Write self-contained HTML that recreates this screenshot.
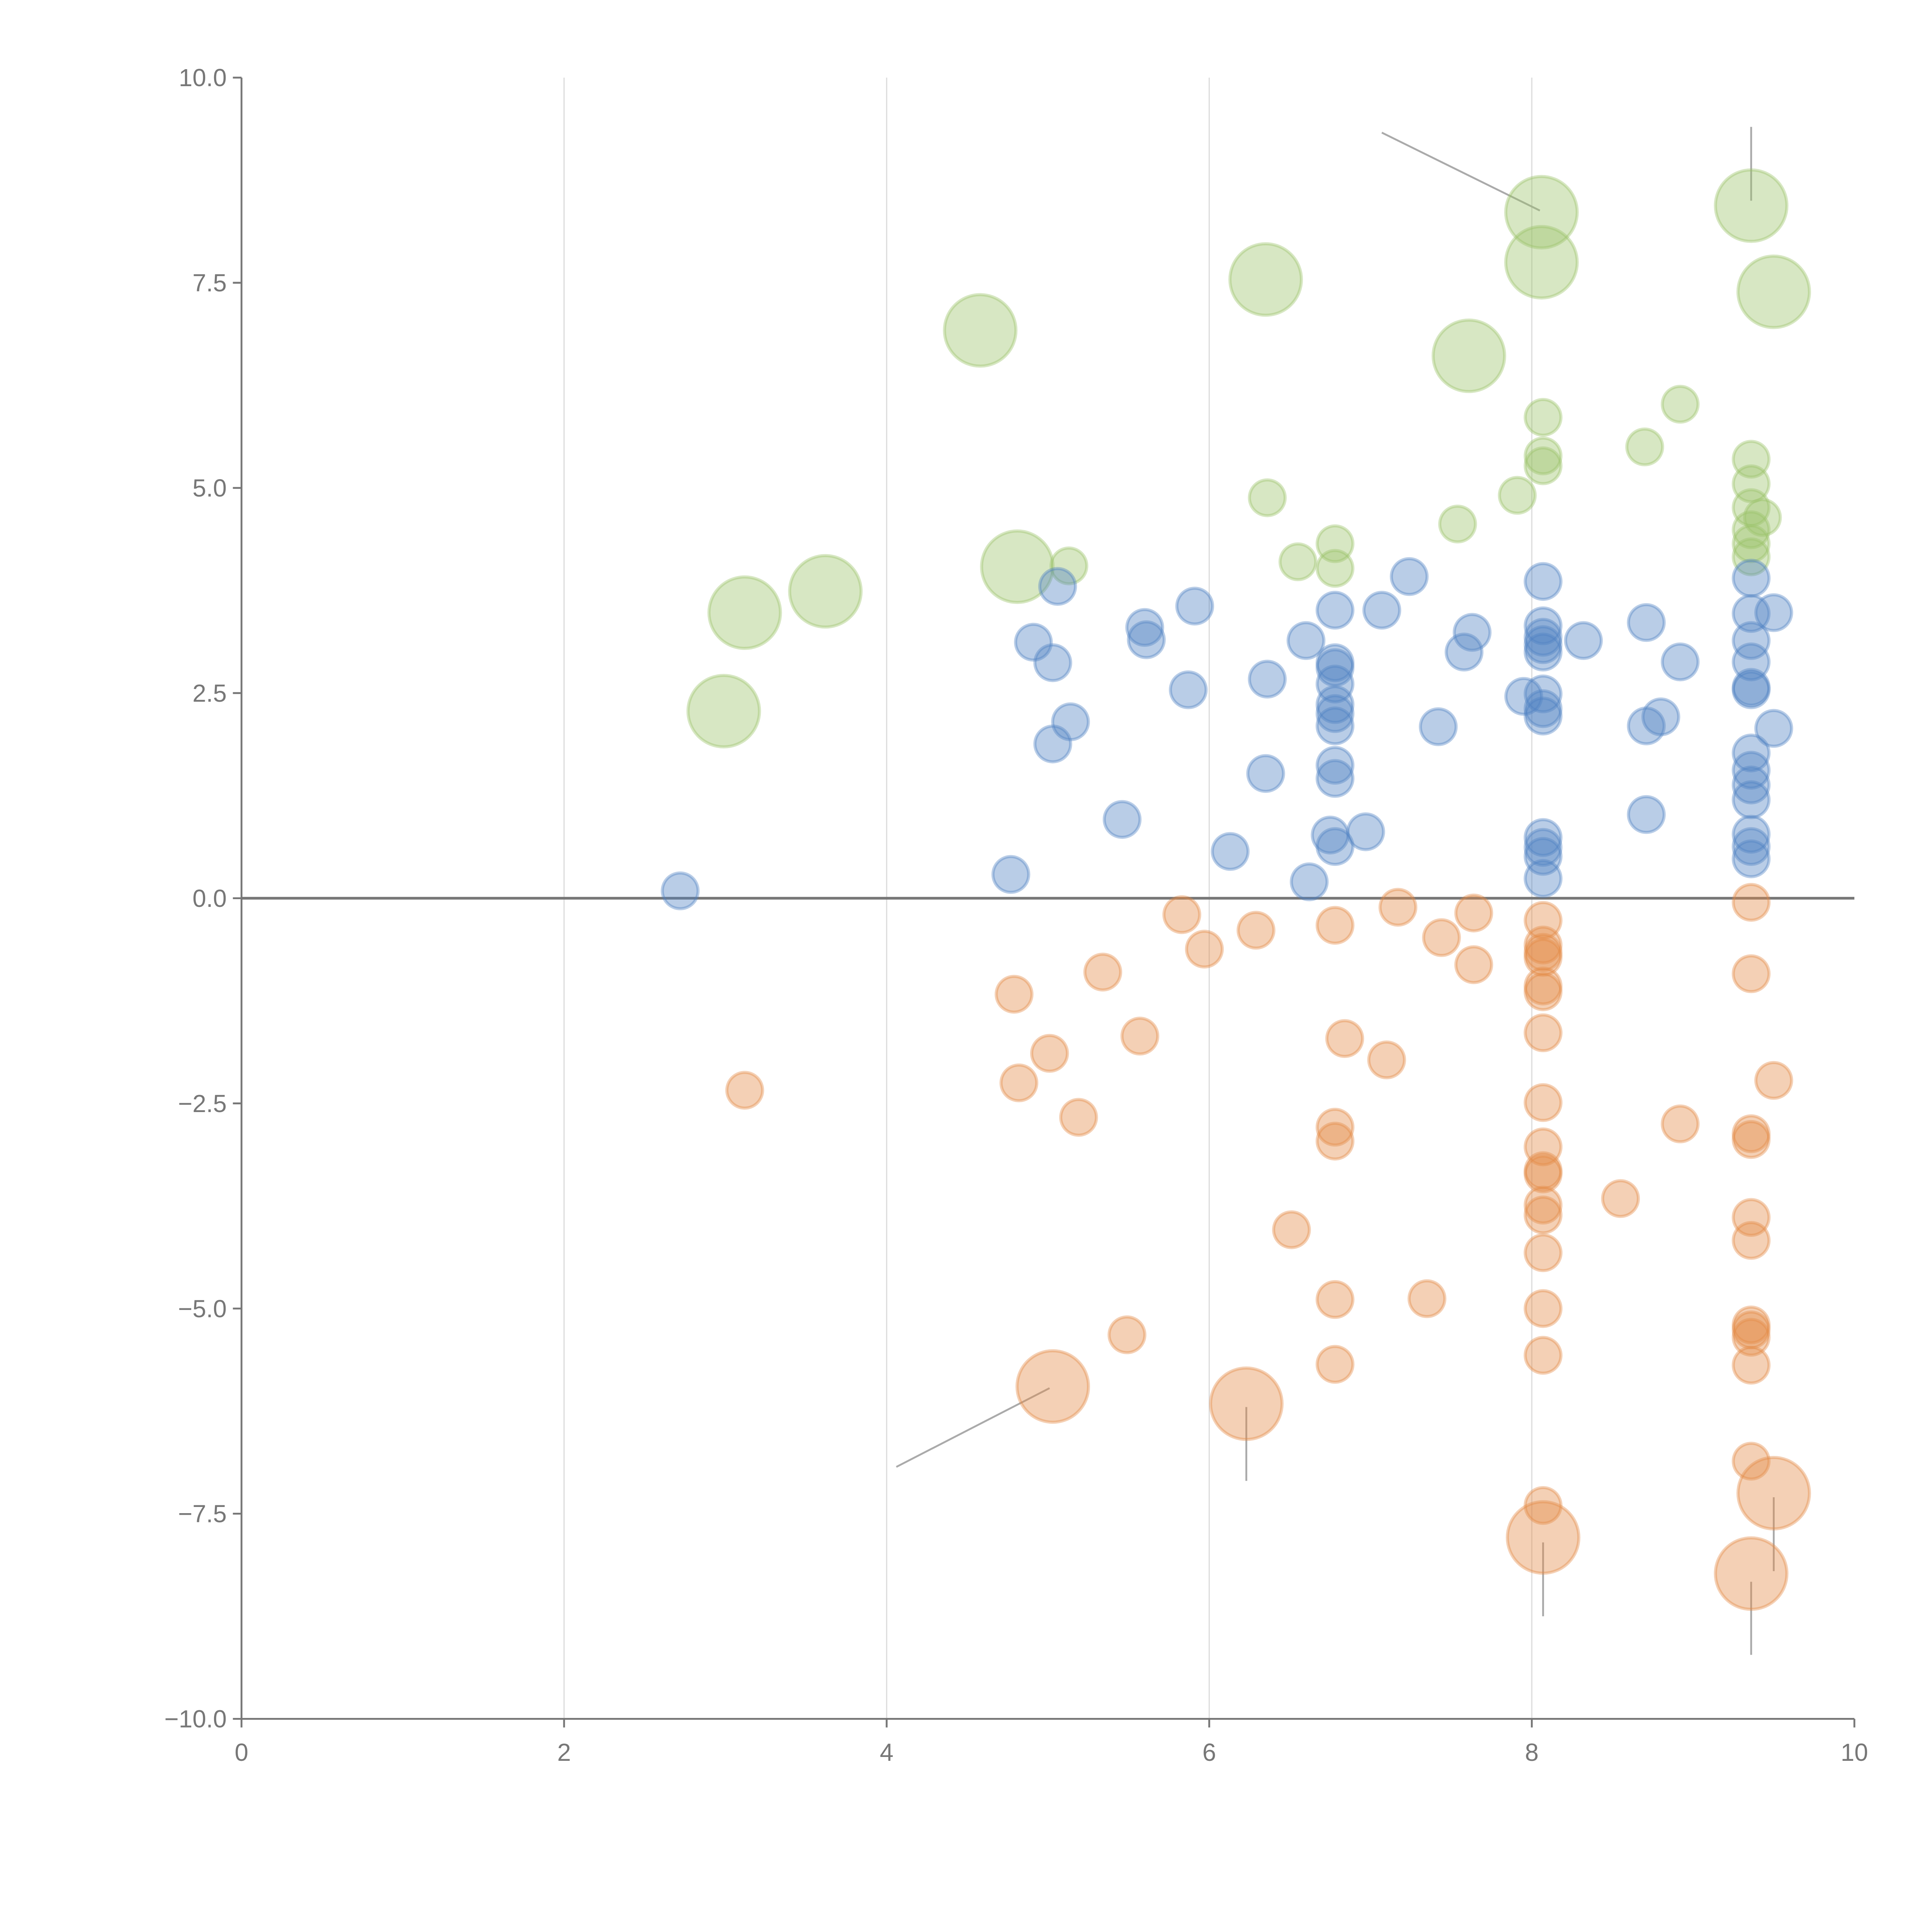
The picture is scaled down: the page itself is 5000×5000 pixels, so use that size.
<!DOCTYPE html>
<html><head><meta charset="utf-8"><style>html,body{margin:0;padding:0;background:#fff}svg{display:block}</style></head>
<body>
<svg id="chart" width="5000" height="5000" viewBox="0 0 1568 1568" xmlns="http://www.w3.org/2000/svg" font-family="Liberation Sans, sans-serif">
<g id="grid"></g>
<g id="leaders"></g>
<g id="marks"></g>
<g id="axes"></g>
</svg>
<script>
const xTicks = [0, 2, 4, 6, 8, 10];
const yTicks = [-10, -7.5, -5, -2.5, 0, 2.5, 5, 7.5, 10];
const yTickLabels = ["\u221210.0","\u22127.5","\u22125.0","\u22122.5","0.0","2.5","5.0","7.5","10.0"];

const greenX = [3.12,3.62,2.99,4.58,4.81,6.35,7.61,8.06,8.06,9.36,9.50, 5.13,6.36,6.55,6.78,6.78,7.54,7.91,8.07,8.07,8.07,8.70,8.92,9.36,9.36,9.36,9.43,9.36,9.36,9.36];
const greenY = [3.48,3.74,2.28,6.92,4.04,7.54,6.61,8.36,7.75,8.44,7.39, 4.05,4.88,4.10,4.32,4.02,4.56,4.91,5.86,5.39,5.27,5.50,6.02,5.35,5.05,4.76,4.64,4.49,4.32,4.16];
const greenS = [2,2,2,2,2,2,2,2,2,2,2, 1,1,1,1,1,1,1,1,1,1,1,1,1,1,1,1,1,1,1];

const blueX = [2.72,4.77,4.91,5.03,5.06,5.14,5.03,5.46,5.60,5.61,5.87,5.91,6.13,6.36,6.35,6.60,6.62,6.78,6.78,6.78,6.78,6.78,6.78,6.78,6.78,6.78,6.75,6.78,6.97,7.07,7.24,7.42,7.58,7.63,7.95,8.07,8.07,8.07,8.07,8.07,8.07,8.07,8.07,8.07,8.07,8.07,8.07,8.32,8.71,8.71,8.80,8.71,8.92,9.36,9.36,9.50,9.36,9.36,9.36,9.36,9.50,9.36,9.36,9.36,9.36,9.36,9.36,9.36];
const blueY = [0.09,0.29,3.12,2.87,3.80,2.15,1.88,0.96,3.30,3.15,2.54,3.56,0.57,2.67,1.52,3.14,0.20,3.51,2.87,2.81,2.61,2.36,2.25,2.10,1.62,1.46,0.77,0.63,0.81,3.51,3.92,2.09,3.00,3.24,2.46,3.86,3.32,3.18,3.09,3.00,2.49,2.31,2.22,0.74,0.62,0.51,0.24,3.14,3.36,2.10,2.21,1.02,2.88,3.90,3.47,3.48,3.14,2.88,2.57,2.54,2.07,1.77,1.56,1.38,1.20,0.78,0.63,0.48];

const orangeX = [3.12,4.79,4.82,5.01,5.19,5.34,5.49,5.57,5.83,5.97,6.29,6.51,6.78,6.78,6.78,6.78,6.78,6.84,7.10,7.17,7.35,7.44,7.64,7.64,8.07,8.07,8.07,8.07,8.07,8.07,8.07,8.07,8.07,8.07,8.07,8.07,8.07,8.07,8.07,8.07,8.07,8.55,8.92,9.36,9.36,9.36,9.36,9.36,9.36,9.36,9.36,9.36,9.36,9.36,9.50, 5.03,6.23,8.07,9.50,9.36];
const orangeY = [-2.34,-1.17,-2.25,-1.89,-2.67,-0.90,-5.32,-1.68,-0.20,-0.62,-0.39,-4.04,-0.33,-2.79,-2.96,-4.89,-5.68,-1.71,-1.97,-0.11,-4.88,-0.48,-0.18,-0.81,-0.27,-0.57,-0.66,-0.72,-1.07,-1.14,-1.64,-2.49,-3.03,-3.32,-3.36,-3.74,-3.86,-4.32,-5.00,-5.57,-7.40,-3.66,-2.75,-0.05,-0.92,-2.87,-2.94,-3.89,-4.17,-5.20,-5.26,-5.35,-5.69,-6.86,-2.22, -5.95,-6.16,-7.79,-7.25,-8.23];
const orangeS = orangeX.map((_, i) => i >= 55 ? 2 : 1);

const leaderX1 = [7.07,4.06,6.23,8.07,9.36,9.36,9.50];
const leaderY1 = [9.33,-6.93,-6.20,-7.85,-8.33,9.40,-7.30];
const leaderX2 = [8.05,5.01,6.23,8.07,9.36,9.36,9.50];
const leaderY2 = [8.38,-5.97,-7.10,-8.75,-9.22,8.50,-8.20];

const X0=196, X1=1505, Y0=1395, Y1=63;
const sx = v => X0 + (v-0)/(10-0)*(X1-X0);
const sy = v => Y0 - (v+10)/20*(Y0-Y1);
const NS='http://www.w3.org/2000/svg';
function mk(tag, parent, attrs){const e=document.createElementNS(NS,tag);for(const k in attrs)e.setAttribute(k,attrs[k]);parent.appendChild(e);return e;}

const grid=document.getElementById('grid');
xTicks.forEach(t=>{ if(t>0&&t<10){
  const l=mk('line',grid,{x1:sx(t),x2:sx(t),y1:Y1,y2:Y0,stroke:'#dddddd','stroke-width':1});
  
  
}});
const zl=mk('line',grid,{x1:X0,x2:X1,y1:sy(0),y2:sy(0),stroke:'#777','stroke-width':2.2});



const leaders=document.getElementById('leaders');
leaderX1.forEach((_,i)=>{
  const l=mk('line',leaders,{x1:sx(leaderX1[i]),y1:sy(leaderY1[i]),x2:sx(leaderX2[i]),y2:sy(leaderY2[i]),stroke:'#aaa','stroke-width':1.5});
  
  
});

const marks=document.getElementById('marks');
function series(xs,ys,ss,col,name){
  xs.forEach((x,i)=>{
    const r = ss[i]===2 ? 29 : 14.5;
    const c=mk('circle',marks,{cx:sx(x),cy:sy(ys[i]),r:r,fill:col,'fill-opacity':0.4,stroke:col,'stroke-opacity':0.4,'stroke-width':2.5});
    
    
  });
}
series(greenX,greenY,greenS,'#9cc36a','bubble-positive-large');
series(blueX,blueY,blueX.map(()=>1),'#5183c3','bubble-positive');
series(orangeX,orangeY,orangeS,'#e38a45','bubble-negative');

const axes=document.getElementById('axes');
const ly=mk('line',axes,{x1:X0,x2:X0,y1:Y1,y2:Y0,stroke:'#777','stroke-width':1.5});


const lx=mk('line',axes,{x1:X0,x2:X1,y1:Y0,y2:Y0,stroke:'#777','stroke-width':1.5});


yTicks.forEach((t,i)=>{
  const tk=mk('line',axes,{x1:X0-7,x2:X0,y1:sy(t),y2:sy(t),stroke:'#777','stroke-width':1.5});
  
  
  const tx=mk('text',axes,{x:X0-12,y:sy(t)+7,'text-anchor':'end','font-size':20,fill:'#777'});
  tx.textContent=yTickLabels[i];
  
  
});
xTicks.forEach(t=>{
  const tk=mk('line',axes,{x1:sx(t),x2:sx(t),y1:Y0,y2:Y0+7,stroke:'#777','stroke-width':1.5});
  
  
  const tx=mk('text',axes,{x:sx(t),y:Y0+34,'text-anchor':'middle','font-size':20,fill:'#777'});
  tx.textContent=String(t);
  
  
});
</script>
</body></html>
